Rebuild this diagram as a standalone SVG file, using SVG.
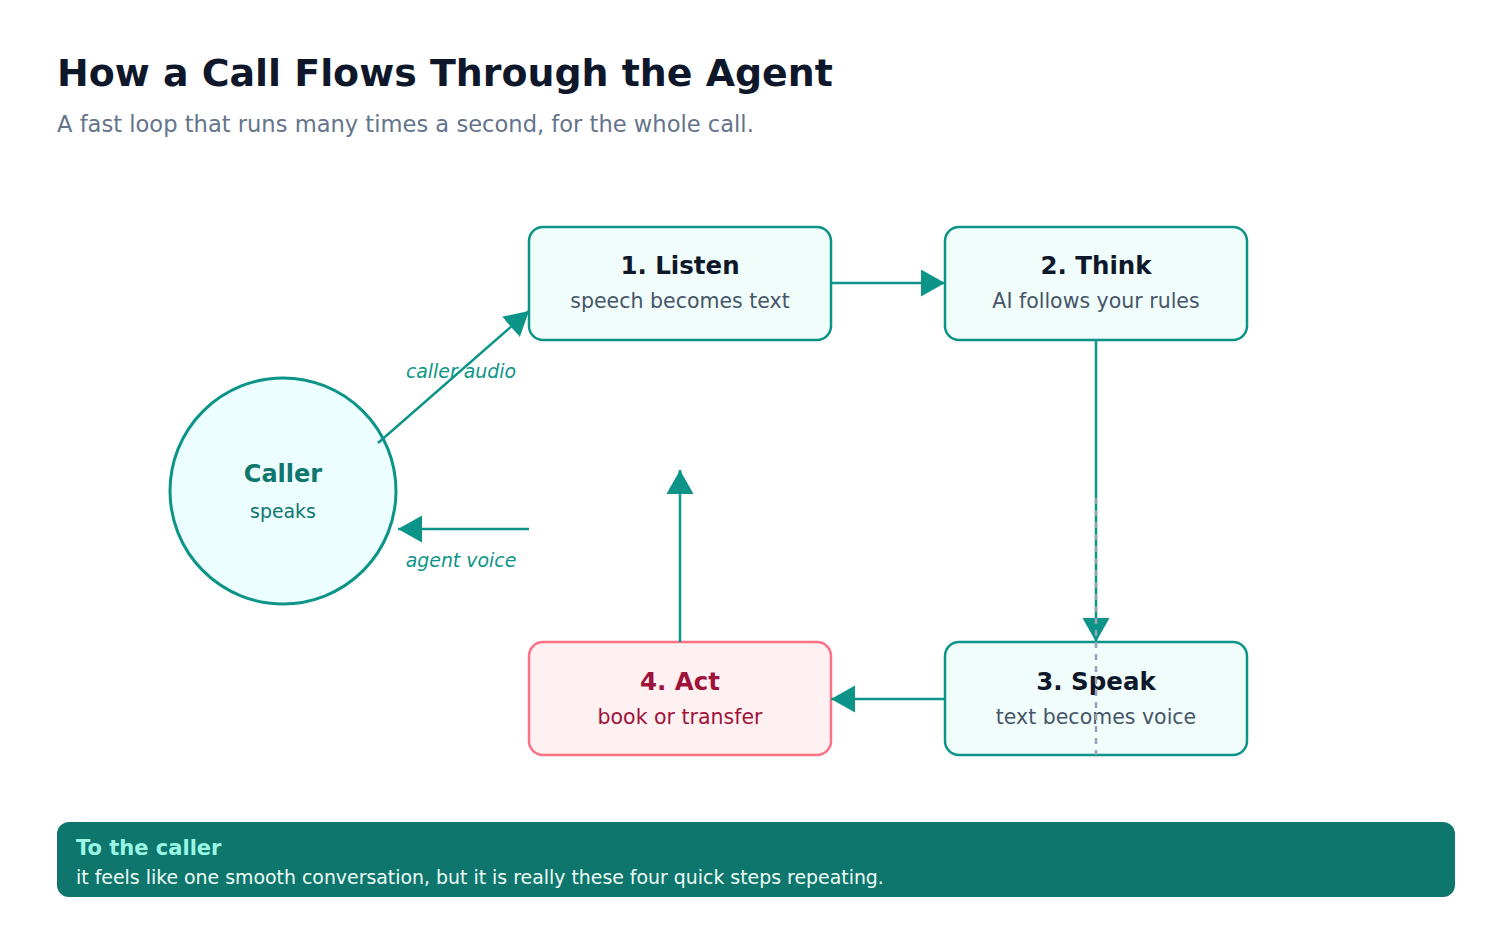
<svg xmlns="http://www.w3.org/2000/svg" width="1512" height="945" viewBox="0 0 1512 945">
<style>
text{font-family:"DejaVu Sans","Noto Sans",sans-serif}
.title{font-size:37.9px;font-weight:bold;fill:#0f172a}
.sub{font-size:22.6px;fill:#64748b}
.box{fill:#f0fdfa;stroke:#0d9488;stroke-width:2.5}
.act{fill:#fff1f2;stroke:#fb7185;stroke-width:2.5}
.h{font-size:24.5px;font-weight:bold;fill:#0f172a;text-anchor:middle}
.d{font-size:20.5px;fill:#475569;text-anchor:middle}
.ha{font-size:24.5px;font-weight:bold;fill:#9f1239;text-anchor:middle}
.da{font-size:20.5px;fill:#9f1239;text-anchor:middle}
.edge{fill:none;stroke:#0d9488;stroke-width:2.5}
.lbl{font-size:18.9px;font-style:italic;fill:#0d9488;text-anchor:middle}
</style>
<defs>
<marker id="arr" markerUnits="userSpaceOnUse" markerWidth="26" markerHeight="28" refX="24" refY="13.5" orient="auto" viewBox="0 0 26 28">
<path d="M0,0 L24,13.5 L0,27 z" fill="#0d9488"/>
</marker>
</defs>
<rect width="1512" height="945" fill="#ffffff"/>
<text class="title" x="57" y="86">How a Call Flows Through the Agent</text>
<text class="sub" x="57" y="132">A fast loop that runs many times a second, for the whole call.</text>

<g id="caller">
<circle cx="283" cy="491" r="113" fill="#ecfeff" stroke="#0d9488" stroke-width="3"/>
<text x="283" y="482" text-anchor="middle" font-size="24" font-weight="bold" fill="#0f766e">Caller</text>
<text x="283" y="518" text-anchor="middle" font-size="18.9" fill="#0f766e">speaks</text>
</g>

<g id="listen">
<rect class="box" x="529" y="227" width="302" height="113" rx="14"/>
<text class="h" x="680" y="274">1. Listen</text>
<text class="d" x="680" y="308">speech becomes text</text>
</g>

<g id="think">
<rect class="box" x="945" y="227" width="302" height="113" rx="14"/>
<text class="h" x="1096" y="274">2. Think</text>
<text class="d" x="1096" y="308">AI follows your rules</text>
</g>

<g id="speak">
<rect class="box" x="945" y="642" width="302" height="113" rx="14"/>
<text class="h" x="1096" y="690">3. Speak</text>
<text class="d" x="1096" y="724">text becomes voice</text>
</g>

<g id="act">
<rect class="act" x="529" y="642" width="302" height="113" rx="14"/>
<text class="ha" x="680" y="690">4. Act</text>
<text class="da" x="680" y="724">book or transfer</text>
</g>

<g id="connectors">
<line class="edge" x1="378" y1="443" x2="529" y2="311" marker-end="url(#arr)"/>
<line class="edge" x1="831" y1="283" x2="945" y2="283" marker-end="url(#arr)"/>
<line class="edge" x1="1096" y1="340" x2="1096" y2="642" marker-end="url(#arr)"/>
<line class="edge" x1="945" y1="699" x2="831" y2="699" marker-end="url(#arr)"/>
<line class="edge" x1="680" y1="642" x2="680" y2="470" marker-end="url(#arr)"/>
<line class="edge" x1="529" y1="529" x2="398" y2="529" marker-end="url(#arr)"/>
<text class="lbl" x="461" y="378">caller audio</text>
<text class="lbl" x="461" y="567">agent voice</text>
</g>

<g id="divider">
<line x1="1096" y1="498" x2="1096" y2="755" stroke="#94a3b8" stroke-width="2.5" stroke-dasharray="6 6"/>
</g>

<g id="note">
<rect x="57" y="822" width="1398" height="75" rx="12" fill="#0f766e"/>
<text x="76" y="855" font-size="21" font-weight="bold" fill="#99f6e4">To the caller</text>
<text x="76" y="884" font-size="18.9" fill="#ecfdf5">it feels like one smooth conversation, but it is really these four quick steps repeating.</text>
</g>
</svg>
